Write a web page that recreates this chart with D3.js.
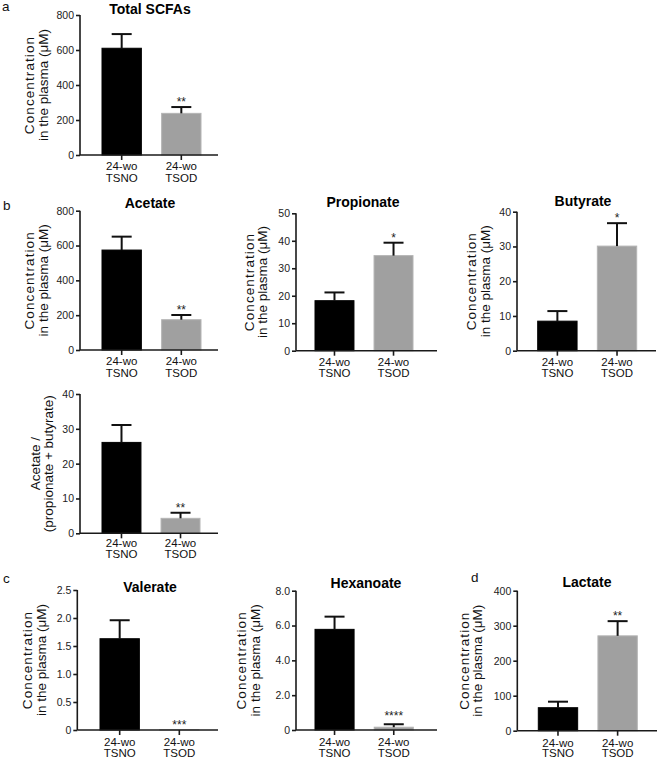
<!DOCTYPE html>
<html><head><meta charset="utf-8">
<script src="https://cdn.jsdelivr.net/npm/d3@7"></script>
<style>
html,body{margin:0;padding:0;background:#fff;}
svg{display:block;font-family:"Liberation Sans",Arial,Helvetica,sans-serif;}
</style></head>
<body><svg id="c" width="660" height="762"></svg>
<script>
// ---- data ----
const groups = ["24-wo TSNO", "24-wo TSOD"];
const groupLine1 = ["24-wo", "24-wo"];
const groupLine2 = ["TSNO", "TSOD"];

const totalMean = [610, 238];      const totalErr = [81, 36];      const totalSig = ["", "**"];
const acetateMean = [574, 174];    const acetateErr = [77, 27];    const acetateSig = ["", "**"];
const propionateMean = [18.2, 34.6]; const propionateErr = [3.0, 4.7]; const propionateSig = ["", "*"];
const butyrateMean = [8.5, 30.1];  const butyrateErr = [2.9, 6.6]; const butyrateSig = ["", "*"];
const ratioMean = [26.1, 4.3];     const ratioErr = [5.0, 1.6];    const ratioSig = ["", "**"];
const valerateMean = [1.63, 0.005]; const valerateErr = [0.33, 0]; const valerateSig = ["", "***"];
const hexanoateMean = [5.78, 0.16]; const hexanoateErr = [0.73, 0.17]; const hexanoateSig = ["", "****"];
const lactateMean = [65.7, 271];   const lactateErr = [17.2, 42];  const lactateSig = ["", "**"];

const ticks800 = [0, 200, 400, 600, 800];
const ticks50 = [0, 10, 20, 30, 40, 50];
const ticks40 = [0, 10, 20, 30, 40];
const ticksVal = [0, 0.5, 1.0, 1.5, 2.0, 2.5];
const tickLabelsVal = ["0", "0.5", "1.0", "1.5", "2.0", "2.5"];
const ticksHex = [0, 2, 4, 6, 8];
const tickLabelsHex = ["0", "2.0", "4.0", "6.0", "8.0"];
const ticks400 = [0, 100, 200, 300, 400];

const concLabel = ["Concentration", "in the plasma (\u03BCM)"];
const ratioLabel = ["Acetate /", "(propionate + butyrate)"];

// ---- layout ----
const svg = d3.select("#c");
const colors = ["#000000", "#a0a0a0"];

function panel(o) {
  const g = svg.append("g");
  const y = d3.scaleLinear().domain([0, o.ticks[o.ticks.length - 1]]).range([o.yBot, o.yTop]);
  const x = d3.scaleBand().domain(groups).range([o.b0, o.b1]).paddingInner(0.34).paddingOuter(0);
  const bw = x.bandwidth();

  g.selectAll("rect.bar").data(groups).enter().append("rect")
    .attr("x", d => x(d)).attr("width", bw)
    .attr("y", (d, i) => y(o.mean[i]))
    .attr("height", (d, i) => y(0) - y(o.mean[i]))
    .attr("fill", (d, i) => colors[i])
    .attr("stroke", (d, i) => i ? "#b4b4b4" : "#000").attr("stroke-width", 1);

  groups.forEach((d, i) => {
    if (o.err[i] <= 0) return;
    const cx = x(d) + bw / 2;
    g.append("line").attr("x1", cx).attr("x2", cx)
      .attr("y1", y(o.mean[i])).attr("y2", y(o.mean[i] + o.err[i]))
      .attr("stroke", "#111").attr("stroke-width", 2);
    g.append("line").attr("x1", cx - 10).attr("x2", cx + 10)
      .attr("y1", y(o.mean[i] + o.err[i])).attr("y2", y(o.mean[i] + o.err[i]))
      .attr("stroke", "#111").attr("stroke-width", 2);
  });

  groups.forEach((d, i) => {
    if (!o.sig[i]) return;
    g.append("text").attr("x", x(d) + bw / 2)
      .attr("y", y(o.mean[i] + o.err[i]) - (o.sigOff || 1))
      .attr("text-anchor", "middle").attr("font-size", 12).attr("fill", "#222")
      .text(o.sig[i]);
  });

  const ya = d3.axisLeft(y).tickValues(o.ticks).tickSize(4).tickPadding(2)
    .tickFormat((d, i) => o.tickLabels ? o.tickLabels[i] : String(d));
  const yg = g.append("g").attr("transform", `translate(${o.ax},0)`).call(ya);
  yg.select(".domain").attr("d", `M0,${o.yTop}V${o.yBot}`).attr("stroke", "#1a1a1a").attr("stroke-width", 1.6);
  yg.selectAll(".tick line").attr("stroke", "#1a1a1a").attr("stroke-width", 1.6);
  yg.selectAll(".tick text").attr("font-size", 10.5).attr("fill", "#222")
    .attr("font-family", "Liberation Sans, Arial, sans-serif");

  const xa = d3.axisBottom(x).tickSize(5).tickFormat("");
  const xg = g.append("g").attr("transform", `translate(0,${o.yBot})`).call(xa);
  xg.select(".domain").attr("d", `M${o.ax},0H${o.xEnd}`).attr("stroke", "#1a1a1a").attr("stroke-width", 1.6);
  xg.selectAll(".tick line").attr("stroke", "#1a1a1a").attr("stroke-width", 1.6);

  groups.forEach((d, i) => {
    const cx = x(d) + bw / 2;
    g.append("text").attr("x", cx).attr("y", o.yBot + o.l1).attr("text-anchor", "middle")
      .attr("font-size", 11.5).attr("fill", "#111").text(groupLine1[i]);
    g.append("text").attr("x", cx).attr("y", o.yBot + o.l2).attr("text-anchor", "middle")
      .attr("font-size", 11.5).attr("fill", "#111").text(groupLine2[i]);
  });

  g.append("text").attr("x", o.tx).attr("y", o.ty).attr("text-anchor", "middle")
    .attr("font-size", 14).attr("font-weight", "bold").attr("fill", "#000").text(o.title);

  const yc = (o.yTop + o.yBot) / 2;
  o.ylabel.forEach((t, k) => {
    g.append("text").attr("transform", `translate(${o.lx[k]},${yc}) rotate(-90)`)
      .attr("text-anchor", "middle").attr("font-size", 13.5).attr("fill", "#111")
      .attr("letter-spacing", (o.spacing || [0, 0])[k])
      .text(t);
  });
}

const concSpacing = [1.1, 0];

panel({title: "Total SCFAs", mean: totalMean, err: totalErr, sig: totalSig, ticks: ticks800,
  ax: 80, xEnd: 218, b0: 102, b1: 201, yBot: 155, yTop: 15, tx: 150, ty: 13.5,
  l1: 15, l2: 26.5, ylabel: concLabel, spacing: concSpacing, lx: [33.5, 47.5]});
panel({title: "Acetate", mean: acetateMean, err: acetateErr, sig: acetateSig, ticks: ticks800,
  ax: 80, xEnd: 218, b0: 102, b1: 201, yBot: 350, yTop: 210.7, tx: 150, ty: 207.5,
  l1: 15, l2: 26.5, ylabel: concLabel, spacing: concSpacing, lx: [33.5, 47.5]});
panel({title: "Propionate", mean: propionateMean, err: propionateErr, sig: propionateSig, ticks: ticks50,
  ax: 296, xEnd: 437, b0: 315, b1: 413, yBot: 350.7, yTop: 213.3, tx: 363, ty: 207,
  l1: 15, l2: 26.5, ylabel: concLabel, spacing: concSpacing, lx: [253.5, 267]});
panel({title: "Butyrate", mean: butyrateMean, err: butyrateErr, sig: butyrateSig, ticks: ticks40,
  ax: 517, xEnd: 656, b0: 537.7, b1: 636.7, yBot: 350.7, yTop: 211.7, tx: 583, ty: 205.7,
  l1: 15, l2: 26.5, ylabel: concLabel, spacing: concSpacing, lx: [476, 489.5]});
panel({title: "", mean: ratioMean, err: ratioErr, sig: ratioSig, ticks: ticks40,
  ax: 80, xEnd: 218, b0: 102, b1: 200, yBot: 533.3, yTop: 394, tx: 150, ty: 390,
  l1: 14, l2: 24.5, ylabel: ratioLabel, lx: [40, 53]});
panel({title: "Valerate", mean: valerateMean, err: valerateErr, sig: valerateSig, ticks: ticksVal, tickLabels: tickLabelsVal,
  ax: 77.3, xEnd: 218, b0: 100, b1: 199, yBot: 730, yTop: 590, tx: 150, ty: 591.7,
  l1: 16, l2: 27, ylabel: concLabel, spacing: concSpacing, lx: [32, 45.5]});
panel({title: "Hexanoate", mean: hexanoateMean, err: hexanoateErr, sig: hexanoateSig, ticks: ticksHex, tickLabels: tickLabelsHex,
  ax: 296, xEnd: 437, b0: 315, b1: 413.3, yBot: 730, yTop: 590.7, tx: 366, ty: 588.3, sigOff: 4,
  l1: 16, l2: 27, ylabel: concLabel, spacing: concSpacing, lx: [245.5, 260]});
panel({title: "Lactate", mean: lactateMean, err: lactateErr, sig: lactateSig, ticks: ticks400,
  ax: 517.3, xEnd: 657, b0: 538.3, b1: 637.3, yBot: 730.7, yTop: 590.7, tx: 587, ty: 587.3,
  l1: 16, l2: 26.5, ylabel: concLabel, spacing: concSpacing, lx: [468.5, 482]});

const letters = [["a", 2, 11], ["b", 3, 210], ["c", 3, 583], ["d", 471, 582]];
letters.forEach(([t, x, y]) => svg.append("text").attr("x", x).attr("y", y)
  .attr("font-size", 13.5).attr("fill", "#111").text(t));
</script>
</body></html>
